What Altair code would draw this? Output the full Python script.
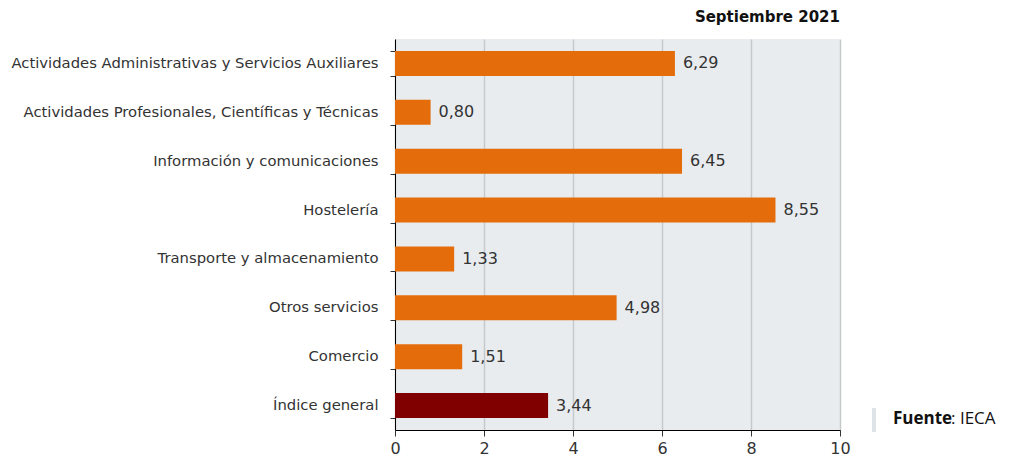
import altair as alt
import pandas as pd

categories = [
    "Actividades Administrativas y Servicios Auxiliares",
    "Actividades Profesionales, Científicas y Técnicas",
    "Información y comunicaciones",
    "Hostelería",
    "Transporte y almacenamiento",
    "Otros servicios",
    "Comercio",
    "Índice general",
]
values = [6.29, 0.80, 6.45, 8.55, 1.33, 4.98, 1.51, 3.44]
groups = ["sector"] * 7 + ["general"]
x_ticks = [0, 2, 4, 6, 8, 10]
title_text = "Septiembre 2021"

df = pd.DataFrame({"cat": categories, "v": values, "g": groups})

FONT = "DejaVu Sans"
W, H = 445, 391

base = alt.Chart(df)

bars = base.mark_bar().encode(
    y=alt.Y("cat:N", sort=categories, title=None,
            scale=alt.Scale(paddingInner=0.49, paddingOuter=0.245),
            axis=alt.Axis(tickBand="extent", labelFont=FONT, labelFontSize=14.8,
                          labelColor="#333333", labelPadding=12, tickSize=5,
                          tickColor="#333333", domainColor="#000000",
                          labelLimit=600, grid=False)),
    x=alt.X("v:Q", title=None,
            scale=alt.Scale(domain=[0, 10], nice=False),
            axis=alt.Axis(values=x_ticks, labelFont=FONT, labelFontSize=16,
                          labelColor="#333333", labelPadding=4, tickSize=6,
                          labelFlush=False,
                          tickColor="#333333", domainColor="#000000",
                          gridColor="#c6c9cc", gridWidth=1.5)),
    color=alt.Color("g:N", scale=alt.Scale(domain=["sector", "general"],
                                           range=["#e46c0a", "#800000"]),
                    legend=None),
)

labels = base.transform_calculate(
    lab="replace(format(datum.v, '.2f'), '.', ',')"
).mark_text(align="left", dx=8, font=FONT, fontSize=16, color="#333333").encode(
    y=alt.Y("cat:N", sort=categories),
    x=alt.X("v:Q"),
    text="lab:N",
)

src_bar = alt.Chart(pd.DataFrame({"a": [0]})).mark_rule(
    color="#dde3e6", strokeWidth=4
).encode(x=alt.value(479), y=alt.value(369), y2=alt.value(393))

src_bold = alt.Chart(pd.DataFrame({"t": ["Fuente"]})).mark_text(
    align="left", baseline="middle", font="Open Sans", fontSize=17,
    fontWeight="bold", color="#111111"
).encode(x=alt.value(498), y=alt.value(380), text="t:N")

src_rest = alt.Chart(pd.DataFrame({"t": [": IECA"]})).mark_text(
    align="left", baseline="middle", font="Open Sans", fontSize=17,
    color="#111111"
).encode(x=alt.value(556), y=alt.value(380), text="t:N")

chart = alt.layer(bars, labels, src_bar, src_bold, src_rest).properties(
    width=W, height=H,
    title=alt.TitleParams(title_text, anchor="end", frame="group", font=FONT,
                          fontSize=15, fontWeight="bold", color="#111111",
                          offset=6),
    autosize=alt.AutoSizeParams(type="none"),
    padding={"left": 387, "top": 31, "right": 161, "bottom": 28},
).configure_view(fill="#e9ecef", stroke=None)

chart.save("out.html", embed_options={"renderer": "svg", "actions": False})
